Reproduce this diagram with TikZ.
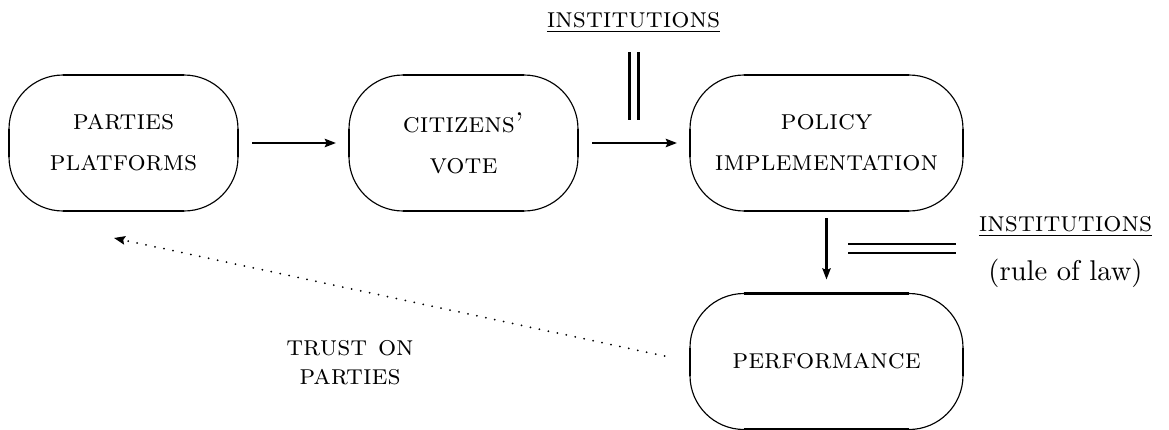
\documentclass[tikz,border=0pt]{standalone}
\usetikzlibrary{arrows.meta}
\begin{document}
\begin{tikzpicture}[x=0.35pt,y=-0.35pt,
  thinln/.style={line width=0.4pt},
  thickln/.style={line width=0.8pt},
  oval/.style={draw=none, inner sep=0pt, outer sep=0pt, minimum height=47.6pt, align=center, font=\scshape},
  conn/.style={thickln, -{Stealth[length=3.9pt,width=2.9pt,inset=0.6pt]}},
  dotconn/.style={line width=0.7pt, line cap=round, dash pattern=on 0pt off 3.2pt, -{Stealth[length=3.9pt,width=3pt,inset=0.6pt,line cap=butt,line width=0.4pt]}},
  dbl/.style={line width=0.75pt, double, double distance=2.4pt},
  lbl/.style={inner sep=0pt, font=\scshape, align=center}]
\useasboundingbox (0,0) rectangle (1169,430);
% boxes
\node[oval, minimum width=80.15pt] (pp) at (123.5,143) {parties\\[2.3pt]platforms};
\node[oval, minimum width=80.15pt] (cv) at (463.5,143) {citizens'\\[2.3pt]vote};
\node[oval, minimum width=95.55pt] (pi) at (826.5,143) {policy\\[2.3pt]implementation};
\node[oval, minimum width=95.55pt] (pf) at (826.5,361.5) {performance};
\foreach \n in {pp,cv,pi,pf}{
  \draw[thinln, rounded corners=18.9pt] (\n.north west) rectangle (\n.south east);
  \draw[thickln] ([xshift=18.9pt]\n.north west) -- ([xshift=-18.9pt]\n.north east);
  \draw[thickln] ([xshift=18.9pt]\n.south west) -- ([xshift=-18.9pt]\n.south east);
  \draw[thickln] ([yshift=-4.9pt]\n.west) -- ([yshift=4.9pt]\n.west);
  \draw[thickln] ([yshift=-4.9pt]\n.east) -- ([yshift=4.9pt]\n.east);
}
% labels
\node[lbl, anchor=base] (inst1) at (633.5,27) {\underline{institutions}};
\node[lbl, anchor=base] (inst2) at (1065.5,231) {\underline{institutions}};
\node[inner sep=0pt, anchor=base] (rule) at (1065.5,280) {(rule of law)};
\node[lbl] (trust) at (350,363) {trust on\\[-1.8pt]parties};
% connectors
\draw[conn, shorten <=4.9pt, shorten >=4.55pt] (pp.east) -- (cv.west);
\draw[conn, shorten <=4.9pt, shorten >=4.55pt] (cv.east) -- (pi.west);
\draw[conn, shorten <=2.45pt, shorten >=4.9pt] (pi.south) -- (pf.north);
\coordinate (tip) at (114,238);
\draw[dotconn, shorten <=9.1pt] (pf.west) -- (tip);
% double rules
\coordinate (v1) at (634,52);
\coordinate (v2) at (634,120);
\draw[dbl] (v1) -- (v2);
\coordinate (h1) at (848,248.5);
\coordinate (h2) at (956,248.5);
\draw[dbl] (h1) -- (h2);
\end{tikzpicture}
\end{document}
